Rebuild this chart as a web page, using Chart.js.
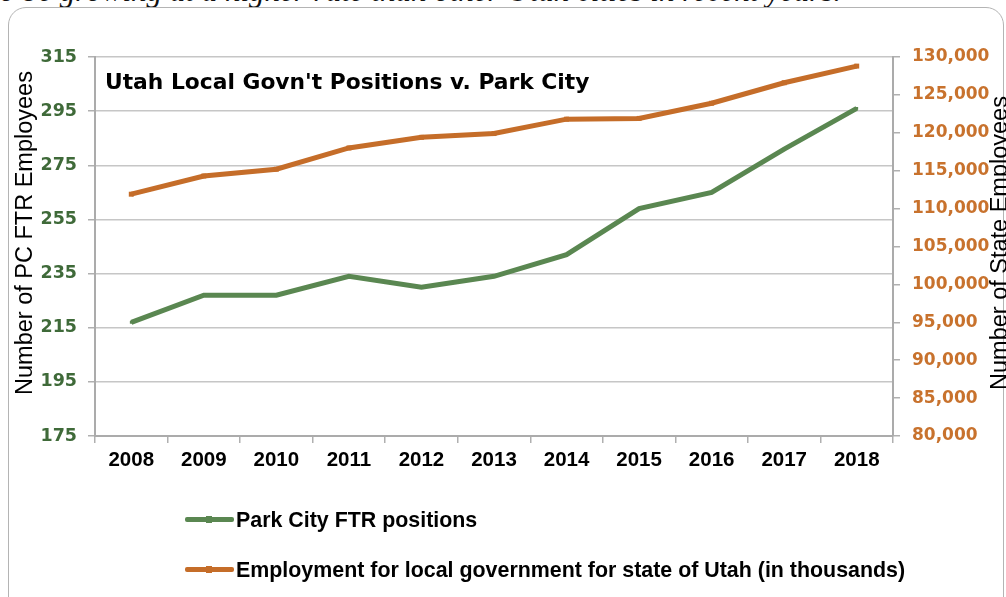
<!DOCTYPE html>
<html>
<head>
<meta charset="utf-8">
<script src="https://cdn.jsdelivr.net/npm/chart.js@4/dist/chart.umd.min.js"></script>
<style>
  body { margin: 0; background: #fff; overflow: hidden; }
  #page { position: relative; width: 1006px; height: 597px; overflow: hidden; }
  #lead {
    position: absolute; left: -9px; top: -26px; white-space: nowrap;
    font: italic 31px/34px "Liberation Serif", "Times New Roman", serif; color: #111;
  }
  #frame {
    position: absolute; left: 8px; top: 7px; width: 994px; height: 700px;
    border: 1.5px solid #b4b4b4; border-radius: 18px;
  }
  #wrap { position: absolute; left: 0; top: 0; width: 1006px; height: 597px; }
  #chartTitle {
    position: absolute; left: 105px; top: 69px; white-space: nowrap;
    font: bold 21.8px/26px "DejaVu Sans", sans-serif; color: #000;
  }
  #legend { position: absolute; left: 185px; top: 508px; }
  .item { position: relative; height: 50px; white-space: nowrap;
    font: bold 21.4px/24px "Liberation Sans", Arial, sans-serif; color: #000; }
  .item .swatch { position: absolute; left: 0; top: 9px; width: 49px; height: 5px; border-radius: 2px; }
  .item .swatch i { position: absolute; left: 21px; top: -1px; width: 6px; height: 7px; }
  .item span.txt { position: absolute; left: 51px; top: 0; }
</style>
</head>
<body>
<div id="page">
  <div id="lead">to be growing at a higher rate than other Utah cities in recent years.</div>
  <div id="frame"></div>
  <div id="wrap"><canvas id="empChart"></canvas></div>
  <div id="chartTitle">Utah Local Govn't Positions v. Park City</div>
  <div id="legend"></div>
</div>
<script>
// 年
var years = ['2008', '2009', '2010', '2011', '2012', '2013', '2014', '2015', '2016', '2017', '2018'];
// Park City FTR positions (left axis)
var parkCityFtr = [217, 227, 227, 234, 230, 234, 242, 259, 265, 281, 296];
// Utah local government employment (right axis)
var utahLocalGov = [111900, 114300, 115200, 118000, 119400, 119900, 121800, 121900, 123900, 126600, 128800];
// tick labels
var leftTicks = [175, 195, 215, 235, 255, 275, 295, 315];
var rightTicks = [80000, 85000, 90000, 95000, 100000, 105000, 110000, 115000, 120000, 125000, 130000];

var seriesNames = ['Park City FTR positions', 'Employment for local government for state of Utah (in thousands)'];
var leftTitle = 'Number of PC FTR Employees';
var rightTitle = 'Number of State Employees';

var GREEN = '#5a8751';
var ORANGE = '#c56d29';

var axisTitles = {
    id: 'axisTitles',
    afterDraw: function(chart) {
        var ctx = chart.ctx;
        ctx.save();
        ctx.fillStyle = '#000';
        ctx.font = '23.5px "Liberation Sans", Arial, sans-serif';
        ctx.textAlign = 'center';
        ctx.textBaseline = 'alphabetic';
        ctx.translate(32, 233);
        ctx.rotate(-Math.PI / 2);
        ctx.fillText(leftTitle, 0, 0);
        ctx.restore();
        ctx.save();
        ctx.fillStyle = '#000';
        ctx.font = '23.5px "Liberation Sans", Arial, sans-serif';
        ctx.textAlign = 'center';
        ctx.translate(1007, 243);
        ctx.rotate(-Math.PI / 2);
        ctx.fillText(rightTitle, 0, 0);
        ctx.restore();
    }
};

var fixTicks = function(values) {
    return function(scale) {
        scale.ticks = values.map(function(v) { return { value: v }; });
    };
};

var ctx = document.getElementById('empChart').getContext('2d');
var myChart = new Chart(ctx, {
    type: 'line',
    data: {
        labels: years,
        datasets: [{
            label: seriesNames[0],
            data: parkCityFtr,
            yAxisID: 'y',
            borderColor: GREEN,
            backgroundColor: GREEN,
            borderWidth: 5,
            pointStyle: 'rect',
            pointRadius: 2,
            pointBorderWidth: 0,
            tension: 0
        }, {
            label: seriesNames[1],
            data: utahLocalGov,
            yAxisID: 'y2',
            borderColor: ORANGE,
            backgroundColor: ORANGE,
            borderWidth: 5,
            pointStyle: 'rect',
            pointRadius: 3.5,
            pointBorderWidth: 0,
            tension: 0
        }]
    },
    options: {
        responsive: true,
        maintainAspectRatio: false,
        animation: false,
        layout: { padding: { top: 57, bottom: 111, left: 0, right: 0 } },
        plugins: { legend: { display: false }, tooltip: { enabled: false } },
        scales: {
            x: {
                offset: true,
                grid: { offset: true, drawOnChartArea: false, tickLength: 7, color: '#b0b0b0', lineWidth: 1.5 },
                border: { color: '#ababab', width: 2 },
                ticks: { color: '#000', padding: 5, font: { family: '"Liberation Sans", Arial, sans-serif', size: 20.5, weight: 'bold' } },
                afterFit: function(scale) { scale.height = 50; }
            },
            y: {
                position: 'left',
                min: leftTicks[0],
                max: leftTicks[leftTicks.length - 1],
                afterBuildTicks: fixTicks(leftTicks),
                grid: { color: '#c6c6c6', lineWidth: 1.5, tickLength: 7, tickColor: '#b0b0b0' },
                border: { color: '#ababab', width: 2 },
                ticks: { color: '#3f6a39', padding: 11, font: { family: '"DejaVu Sans", sans-serif', size: 17.5, weight: 'bold' } },
                afterFit: function(scale) { scale.width = 95; }
            },
            y2: {
                position: 'right',
                min: rightTicks[0],
                max: rightTicks[rightTicks.length - 1],
                afterBuildTicks: fixTicks(rightTicks),
                grid: { drawOnChartArea: false, tickLength: 7, color: '#b0b0b0', lineWidth: 1.5 },
                border: { color: '#ababab', width: 2 },
                ticks: {
                    color: '#c8722d', padding: 12,
                    font: { family: '"DejaVu Sans", sans-serif', size: 17, weight: 'bold' },
                    callback: function(v) { return v.toLocaleString('en-US'); }
                },
                afterFit: function(scale) { scale.width = 113; }
            }
        }
    },
    plugins: [axisTitles]
});

// legend (縦に並べる)
var legendEl = document.getElementById('legend');
myChart.data.datasets.forEach(function(ds) {
    var item = document.createElement('div');
    item.className = 'item';
    item.innerHTML = '<div class="swatch" style="background:' + ds.borderColor + '"><i style="background:' + ds.borderColor + '"></i></div>' +
        '<span class="txt">' + ds.label + '</span>';
    legendEl.appendChild(item);
});
</script>
</body>
</html>
